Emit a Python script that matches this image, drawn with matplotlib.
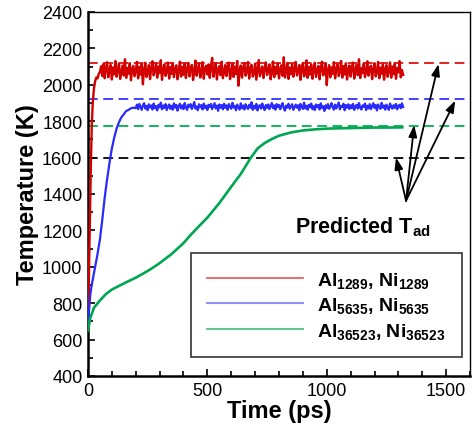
import numpy as np
import matplotlib
matplotlib.use("Agg")
import matplotlib.pyplot as plt
from matplotlib.ticker import MultipleLocator

plt.rcParams['font.family'] = ['Liberation Sans', 'DejaVu Sans']
plt.rcParams['mathtext.fontset'] = 'custom'
plt.rcParams['mathtext.rm'] = 'Liberation Sans:bold'
plt.rcParams['mathtext.it'] = 'Liberation Sans:bold'
plt.rcParams['mathtext.bf'] = 'Liberation Sans:bold'
plt.rcParams['lines.scale_dashes'] = False

# predicted adiabatic temperatures (K)
tad_values = [2118, 1922, 1776, 1600]
tad_colors = ['#e01010', '#3333ff', '#00b050', 'black']

# Al1289, Ni1289 : ramp, then plateau sampled every 5 ps from 50 ps
red_ramp_t = [0, 4, 8, 12, 16, 20, 25, 30, 35, 40, 45]
red_ramp_T = [720, 950, 1250, 1550, 1780, 1900, 1980, 2020, 2040, 2035, 2060]
red_plateau_T = [
    2071, 2102, 2048, 2115, 2036, 2089, 2124, 2041, 2078, 2110, 2029, 2095, 2058, 2131, 2044,
    2083, 2117, 2032, 2069, 2106, 2051, 2140, 2038, 2092, 2061, 2119, 2025, 2087, 2104, 2047,
    2075, 2126, 2035, 2098, 2056, 2113, 2003, 2082, 2121, 2043, 2067, 2108, 2031, 2094, 2129,
    2052, 2079, 2116, 2039, 2101, 2064, 2135, 2027, 2086, 2111, 2049, 2073, 2122, 2034, 2097,
    2060, 2118, 2042, 2088, 2107, 2030, 2076, 2127, 2045, 2099, 2055, 2114, 2037, 2084, 2120,
    2046, 2093, 2109, 2026, 2071, 2133, 2050, 2081, 2115, 2040, 2066, 2124, 2033, 2090, 2105,
    2057, 2112, 2038, 2096, 2148, 2044, 2079, 2118, 2029, 2085, 2103, 2053, 2127, 2036, 2070,
    2109, 2048, 2091, 2122, 2031, 2068, 2114, 2043, 2100, 2059, 2131, 1995, 2077, 2106, 2039,
    2094, 2119, 2050, 2072, 2125, 2034, 2088, 2110, 2045, 2063, 2117, 2028, 2083, 2136, 2047,
    2074, 2101, 2037, 2092, 2123, 2054, 2080, 2112, 2030, 2069, 2128, 2042, 2097, 2061, 2116,
    2035, 2086, 2107, 2049, 2151, 2040, 2078, 2120, 2032, 2095, 2058, 2113, 2044, 2082, 2126,
    2051, 2073, 2109, 2027, 2090, 2118, 2046, 2065, 2134, 2038, 2099, 2056, 2111, 2033, 2084,
    2121, 2043, 2076, 2104, 2030, 2093, 2127, 2052, 2067, 2115, 1998, 2081, 2108, 2041, 2096,
    2060, 2124, 2035, 2087, 2112, 2048, 2070, 2131, 2039, 2102, 2057, 2118, 2029, 2085, 2106,
    2045, 2098, 2122, 2034, 2079, 2110, 2053, 2140, 2037, 2091, 2064, 2116, 2042, 2075, 2129,
    2050, 2089, 2105, 2031, 2083, 2119, 2046, 2072, 2126, 2036, 2094, 2061, 2113, 2028, 2087,
    2108, 2044, 2077, 2123, 2039, 2100, 2058, 2115, 2033, 2092, 2068, 2130, 2041, 2081, 2054,
]

# Al5635, Ni5635 : ramp, then plateau sampled every 5 ps from 200 ps
blue_ramp_t = [0, 5, 10, 15, 20, 30, 40, 50, 60, 70, 80, 90, 100, 110, 120, 130, 140, 150,
               160, 170, 180, 190]
blue_ramp_T = [690, 770, 850, 895, 930, 1000, 1070, 1150, 1260, 1380, 1480, 1570, 1650, 1710,
               1760, 1795, 1822, 1838, 1856, 1862, 1871, 1874]
blue_plateau_T = [
    1872, 1891, 1866, 1895, 1878, 1862, 1888, 1899, 1869, 1884, 1860, 1893, 1875, 1887, 1864,
    1897, 1871, 1883, 1859, 1890, 1876, 1902, 1865, 1886, 1873, 1894, 1861, 1880, 1892, 1868,
    1885, 1863, 1898, 1874, 1889, 1858, 1882, 1896, 1870, 1887, 1866, 1900, 1877, 1862, 1891,
    1879, 1894, 1867, 1884, 1905, 1869, 1881, 1860, 1893, 1876, 1888, 1864, 1897, 1872, 1885,
    1861, 1890, 1878, 1895, 1866, 1883, 1899, 1870, 1886, 1857, 1892, 1874, 1889, 1865, 1896,
    1873, 1887, 1862, 1894, 1880, 1868, 1901, 1875, 1884, 1860, 1891, 1877, 1863, 1898, 1871,
    1886, 1864, 1893, 1879, 1867, 1890, 1874, 1904, 1862, 1885, 1870, 1895, 1859, 1882, 1888,
    1869, 1897, 1876, 1861, 1889, 1873, 1892, 1866, 1883, 1900, 1871, 1887, 1863, 1894, 1878,
    1890, 1865, 1884, 1899, 1872, 1858, 1886, 1875, 1896, 1868, 1881, 1893, 1862, 1877, 1891,
    1874, 1888, 1860, 1895, 1879, 1867, 1902, 1870, 1885, 1863, 1890, 1876, 1897, 1866, 1883,
    1861, 1892, 1877, 1889, 1864, 1898, 1873, 1882, 1856, 1887, 1871, 1894, 1868, 1880, 1899,
    1876, 1863, 1891, 1870, 1886, 1903, 1865, 1884, 1878, 1896, 1860, 1889, 1874, 1893, 1867,
    1888, 1872, 1895, 1862, 1881, 1890, 1869, 1900, 1875, 1864, 1887, 1879, 1897, 1861, 1885,
    1870, 1894, 1866, 1883, 1899, 1873, 1889, 1859, 1892, 1877, 1868, 1901, 1874, 1886, 1863,
    1891, 1876, 1862, 1897, 1880, 1869, 1888, 1873, 1895, 1865, 1884, 1890, 1871, 1898, 1878,
]

# Al36523, Ni36523 : smooth heating curve
green_t = [0, 10, 25, 50, 75, 100, 130, 160, 200, 230, 260, 300, 350, 400, 430, 470, 500,
           550, 600, 640, 680, 710, 740, 770, 800, 850, 900, 950, 1000, 1050, 1100, 1150,
           1200, 1250, 1316]
green_T = [650, 720, 775, 815, 850, 875, 895, 915, 940, 962, 985, 1020, 1070, 1130, 1175,
           1230, 1270, 1350, 1440, 1510, 1595, 1650, 1680, 1702, 1720, 1738, 1749, 1755,
           1759, 1761, 1762, 1764, 1765, 1765, 1766]

labels = [r'Al$_{1289}$, Ni$_{1289}$', r'Al$_{5635}$, Ni$_{5635}$',
          r'Al$_{36523}$, Ni$_{36523}$']

red_t = np.concatenate([red_ramp_t, np.arange(len(red_plateau_T)) * 5 + 50])
red_T = np.concatenate([red_ramp_T, red_plateau_T])
blue_t = np.concatenate([blue_ramp_t, np.arange(len(blue_plateau_T)) * 5 + 200])
blue_T = np.concatenate([blue_ramp_T, blue_plateau_T])

fig = plt.figure(figsize=(4.72, 4.27), dpi=100)
ax = fig.add_axes([0.1864, 0.1171, 0.8094, 0.8525])

for val, col in zip(tad_values, tad_colors):
    ax.axhline(val, color=col, lw=1.3, dashes=(7, 4), zorder=1)

ax.plot(red_t, red_T, color='#d40000', lw=1.7, zorder=3)
ax.plot(blue_t, blue_T, color='#2a2aff', lw=1.6, zorder=3)
ax.plot(green_t, green_T, color='#00a651', lw=1.9, zorder=3)

# legend handles (drawn lighter in the original)
h1, = ax.plot([], [], color='#e05555', lw=1.2)
h2, = ax.plot([], [], color='#9090ff', lw=1.5)
h3, = ax.plot([], [], color='#50bf80', lw=1.3)
leg = ax.legend([h1, h2, h3], labels, loc='lower right', bbox_to_anchor=(0.979, 0.052),
                borderaxespad=0, handlelength=4.9, handletextpad=0.75,
                borderpad=0.85, labelspacing=0.28, fancybox=False, framealpha=1,
                prop={'weight': 'bold', 'size': 14})
leg.get_frame().set_edgecolor('#333333')
leg.get_frame().set_linewidth(1.2)

# annotation arrows to the predicted lines
origin = (1332, 1363)
heads = [(1290, 1600), (1366, 1779), (1468, 2114), (1538, 1913)]
for hx, hy in heads:
    ax.annotate('', xy=(hx, hy), xytext=origin,
                arrowprops=dict(arrowstyle='-|>,head_length=0.7,head_width=0.25',
                                color='black', lw=1.3, shrinkA=0, shrinkB=0))
ax.text(1150, 1290, r'Predicted T$_{ad}$', fontsize=15.5, fontweight='bold',
        ha='center', va='top')

ax.set_xlim(0, 1600)
ax.set_ylim(400, 2400)
ax.xaxis.set_major_locator(MultipleLocator(500))
ax.xaxis.set_minor_locator(MultipleLocator(100))
ax.yaxis.set_major_locator(MultipleLocator(200))
ax.yaxis.set_minor_locator(MultipleLocator(100))
ax.tick_params(which='both', direction='in', labelsize=13, width=1.2)
ax.tick_params(which='major', length=5, pad=4)
ax.tick_params(which='minor', length=3.5)

for side in ['left', 'bottom']:
    ax.spines[side].set_linewidth(1.8)
for side in ['top', 'right']:
    ax.spines[side].set_linewidth(1.0)

ax.set_xlabel('Time (ps)', fontsize=17, fontweight='bold', labelpad=0)
ax.set_ylabel('Temperature (K)', fontsize=17, fontweight='bold', labelpad=2)

fig.savefig('out.png', dpi=100)
